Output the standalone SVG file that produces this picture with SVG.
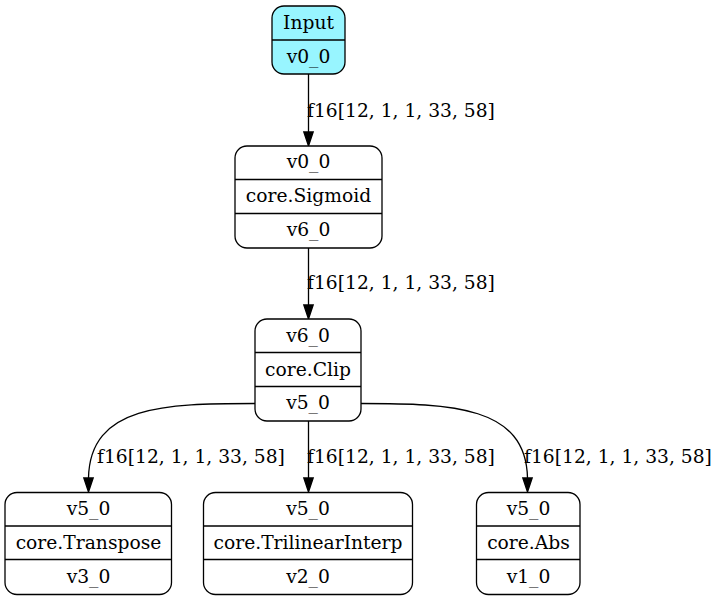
<svg xmlns="http://www.w3.org/2000/svg" width="719" height="601" viewBox="0 0 719 601">
<defs>
<style>
.box{fill:#ffffff;stroke:#000;stroke-width:1.3}
.inp{fill:#98f5ff}
.sep{stroke:#000;stroke-width:1.3}
text{font-family:"DejaVu Serif",serif;font-size:18.7px;fill:#000}
.c{text-anchor:middle}
.e{fill:none;stroke:#000;stroke-width:1.3}
.ah{fill:#000;stroke:#000;stroke-width:1.3}
</style>
</defs>
<rect x="0" y="0" width="719" height="601" fill="#fff"/>
<g id="connectors">
<path class="e" d="M308.5,74 L308.5,132"/>
<polygon class="ah" points="303.8,132 313.2,132 308.5,146"/>
<text x="307" y="117">f16[12, 1, 1, 33, 58]</text>
<path class="e" d="M308.5,248 L308.5,305"/>
<polygon class="ah" points="303.8,305 313.2,305 308.5,319"/>
<text x="307" y="289">f16[12, 1, 1, 33, 58]</text>
<path class="e" d="M255,403.5 C165,403.5 90,405 88.5,478"/>
<polygon class="ah" points="83.8,478 93.2,478 88.5,492"/>
<text x="97" y="463">f16[12, 1, 1, 33, 58]</text>
<path class="e" d="M308.5,421 L308.5,478"/>
<polygon class="ah" points="303.8,478 313.2,478 308.5,492"/>
<text x="307" y="463">f16[12, 1, 1, 33, 58]</text>
<path class="e" d="M361,403.5 C452,403.5 526,406 527.5,478"/>
<polygon class="ah" points="522.8,478 532.2,478 527.5,492"/>
<text x="524" y="463">f16[12, 1, 1, 33, 58]</text>
</g>
<g id="node_input">
<rect class="box inp" x="272" y="6" width="73" height="68" rx="12"/>
<line class="sep" x1="272" y1="40" x2="345" y2="40"/>
<text class="c" x="308.5" y="29">Input</text>
<text class="c" x="308.5" y="63">v0_0</text>
</g>
<g id="node_sigmoid">
<rect class="box" x="235" y="146" width="147" height="102" rx="12"/>
<line class="sep" x1="235" y1="179.5" x2="382" y2="179.5"/>
<line class="sep" x1="235" y1="213.5" x2="382" y2="213.5"/>
<text class="c" x="308.5" y="168">v0_0</text>
<text class="c" x="308.5" y="202">core.Sigmoid</text>
<text class="c" x="308.5" y="236">v6_0</text>
</g>
<g id="node_clip">
<rect class="box" x="255" y="319" width="106" height="102" rx="12"/>
<line class="sep" x1="255" y1="352.5" x2="361" y2="352.5"/>
<line class="sep" x1="255" y1="386.5" x2="361" y2="386.5"/>
<text class="c" x="308" y="342">v6_0</text>
<text class="c" x="308" y="376">core.Clip</text>
<text class="c" x="308" y="409">v5_0</text>
</g>
<g id="node_transpose">
<rect class="box" x="5" y="492.5" width="166.5" height="102" rx="12"/>
<line class="sep" x1="5" y1="526" x2="171.5" y2="526"/>
<line class="sep" x1="5" y1="559.5" x2="171.5" y2="559.5"/>
<text class="c" x="88.5" y="515">v5_0</text>
<text class="c" x="88.5" y="549">core.Transpose</text>
<text class="c" x="88.5" y="583">v3_0</text>
</g>
<g id="node_trilinear">
<rect class="box" x="203.5" y="492.5" width="209" height="102" rx="12"/>
<line class="sep" x1="203.5" y1="526" x2="412.5" y2="526"/>
<line class="sep" x1="203.5" y1="559.5" x2="412.5" y2="559.5"/>
<text class="c" x="308" y="515">v5_0</text>
<text class="c" x="308" y="549">core.TrilinearInterp</text>
<text class="c" x="308" y="583">v2_0</text>
</g>
<g id="node_abs">
<rect class="box" x="476.5" y="492.5" width="103.5" height="102" rx="12"/>
<line class="sep" x1="476.5" y1="526" x2="580" y2="526"/>
<line class="sep" x1="476.5" y1="559.5" x2="580" y2="559.5"/>
<text class="c" x="528.5" y="515">v5_0</text>
<text class="c" x="528.5" y="549">core.Abs</text>
<text class="c" x="528.5" y="583">v1_0</text>
</g>
</svg>
